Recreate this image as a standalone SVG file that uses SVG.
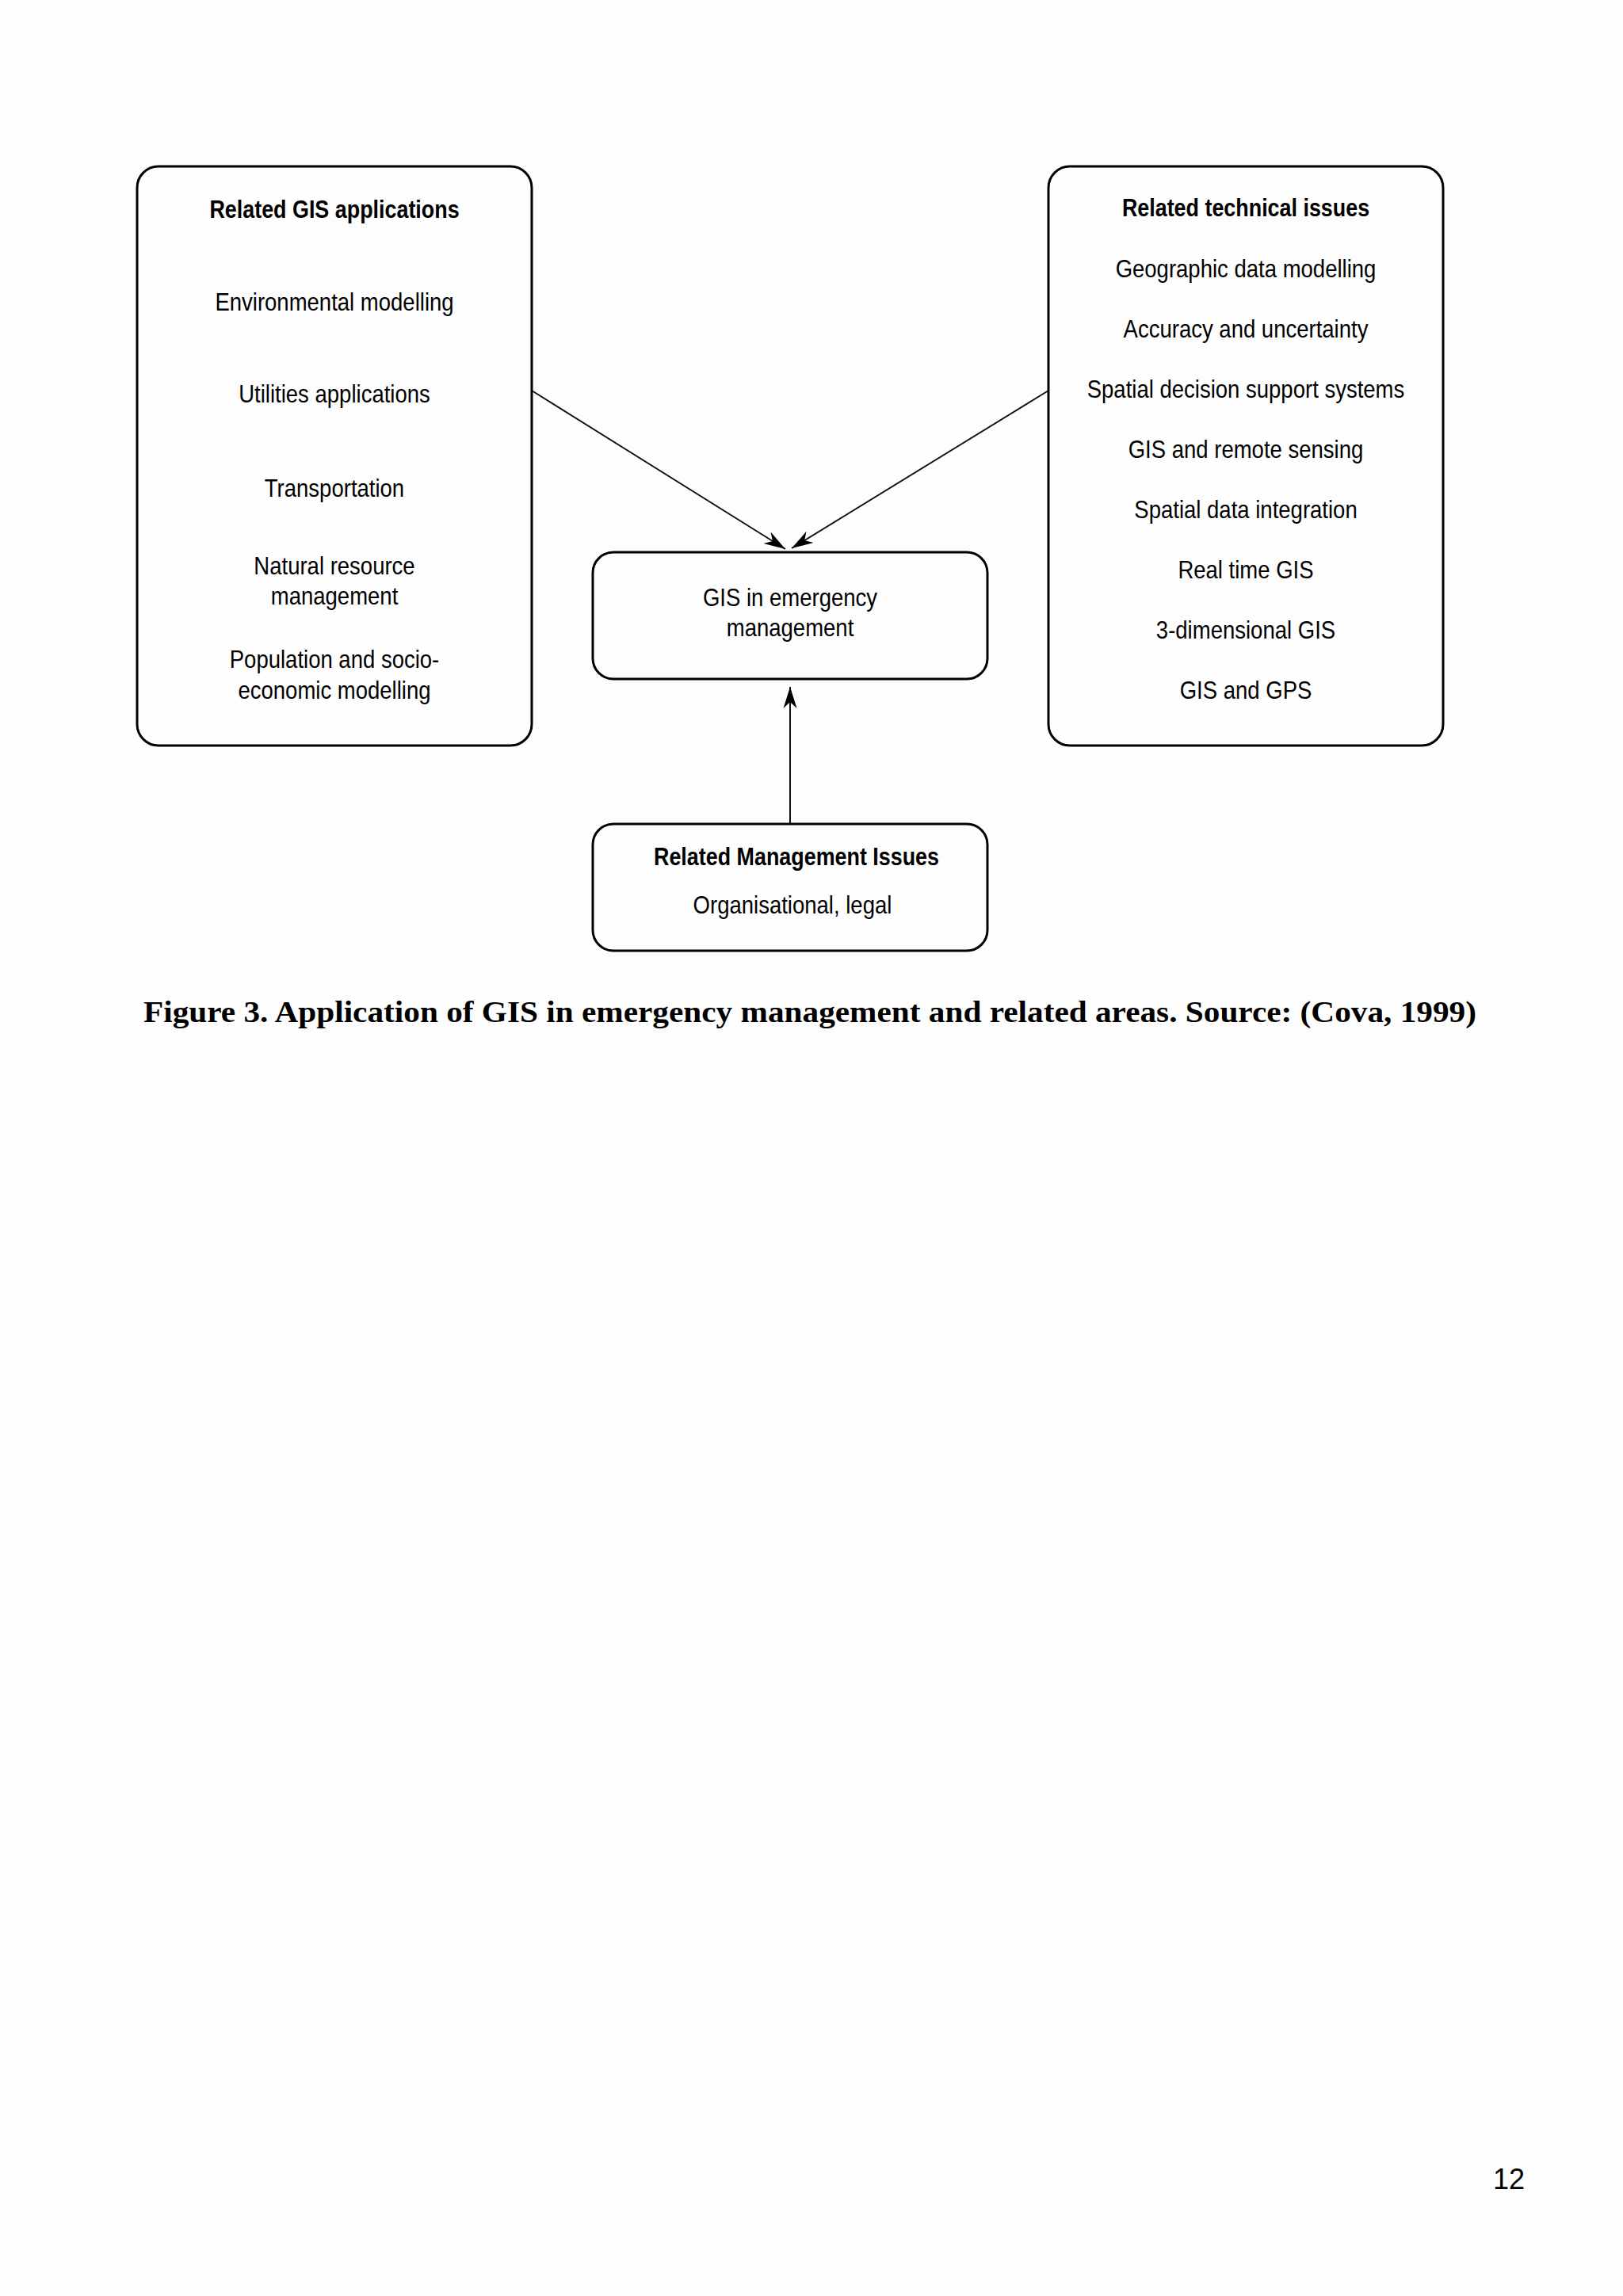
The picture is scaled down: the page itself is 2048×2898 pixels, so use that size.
<svg xmlns="http://www.w3.org/2000/svg" width="2048" height="2898" viewBox="0 0 2048 2898">
  <defs>
    <style>
      .box { fill: none; stroke: #000; stroke-width: 3; }
      .conn { stroke: #111; stroke-width: 2; fill: none; }
      .t { font-family: "Liberation Sans", Arial, sans-serif; font-size: 32px; fill: #000; text-anchor: middle; }
      .b { font-weight: bold; }
      .cap { font-family: "Liberation Serif", "Times New Roman", serif; font-size: 38px; font-weight: bold; fill: #000; }
      .pg { font-family: "Liberation Sans", Arial, sans-serif; font-size: 36px; fill: #000; }
    </style>
    <marker id="arr" markerUnits="userSpaceOnUse" viewBox="-28 -10 30 20" refX="0" refY="0" markerWidth="30" markerHeight="20" orient="auto">
      <path d="M0,0 L-27,-8.5 L-19,0 L-27,8.5 Z" fill="#000"/>
    </marker>
  </defs>
  <rect x="0" y="0" width="2048" height="2898" fill="#fdfdfd"/>

  <g id="connectors">
    <line class="conn" x1="671" y1="493" x2="991" y2="693" marker-end="url(#arr)"/>
    <line class="conn" x1="1323" y1="493" x2="999" y2="692" marker-end="url(#arr)"/>
    <line class="conn" x1="997" y1="1040" x2="997" y2="867" marker-end="url(#arr)"/>
  </g>

  <g id="node-gis-applications">
    <rect class="box" x="173" y="210" width="498" height="731" rx="27" ry="27"/>
    <g transform="translate(422,0) scale(0.86,1)">
      <text class="t b" x="0" y="275" transform="scale(0.977,1)">Related GIS applications</text>
      <text class="t" x="0" y="392">Environmental modelling</text>
      <text class="t" x="0" y="508">Utilities applications</text>
      <text class="t" x="0" y="627">Transportation</text>
      <text class="t" x="0" y="725">Natural resource</text>
      <text class="t" x="0" y="763">management</text>
      <text class="t" x="0" y="843">Population and socio-</text>
      <text class="t" x="0" y="882">economic modelling</text>
    </g>
  </g>

  <g id="node-technical-issues">
    <rect class="box" x="1323" y="210" width="498" height="731" rx="27" ry="27"/>
    <g transform="translate(1572,0) scale(0.86,1)">
      <text class="t b" x="0" y="273" transform="scale(0.977,1)">Related technical issues</text>
      <text class="t" x="0" y="350">Geographic data modelling</text>
      <text class="t" x="0" y="426">Accuracy and uncertainty</text>
      <text class="t" x="0" y="502">Spatial decision support systems</text>
      <text class="t" x="0" y="578">GIS and remote sensing</text>
      <text class="t" x="0" y="654">Spatial data integration</text>
      <text class="t" x="0" y="730">Real time GIS</text>
      <text class="t" x="0" y="806">3-dimensional GIS</text>
      <text class="t" x="0" y="882">GIS and GPS</text>
    </g>
  </g>

  <g id="node-gis-emergency">
    <rect class="box" x="748" y="697" width="498" height="160" rx="26" ry="26"/>
    <g transform="translate(997,0) scale(0.86,1)">
      <text class="t" x="0" y="765">GIS in emergency</text>
      <text class="t" x="0" y="803">management</text>
    </g>
  </g>

  <g id="node-management-issues">
    <rect class="box" x="748" y="1040" width="498" height="160" rx="26" ry="26"/>
    <g transform="translate(1005,0) scale(0.84,1)">
      <text class="t b" x="0" y="1092">Related Management Issues</text>
    </g>
    <g transform="translate(1000,0) scale(0.86,1)">
      <text class="t" x="0" y="1153">Organisational, legal</text>
    </g>
  </g>

  <g id="caption">
    <text class="cap" x="181" y="1290" textLength="1682" lengthAdjust="spacingAndGlyphs">Figure 3. Application of GIS in emergency management and related areas. Source: (Cova, 1999)</text>
  </g>
  <g id="page-number">
    <text class="pg" x="1884" y="2763">12</text>
  </g>
</svg>
